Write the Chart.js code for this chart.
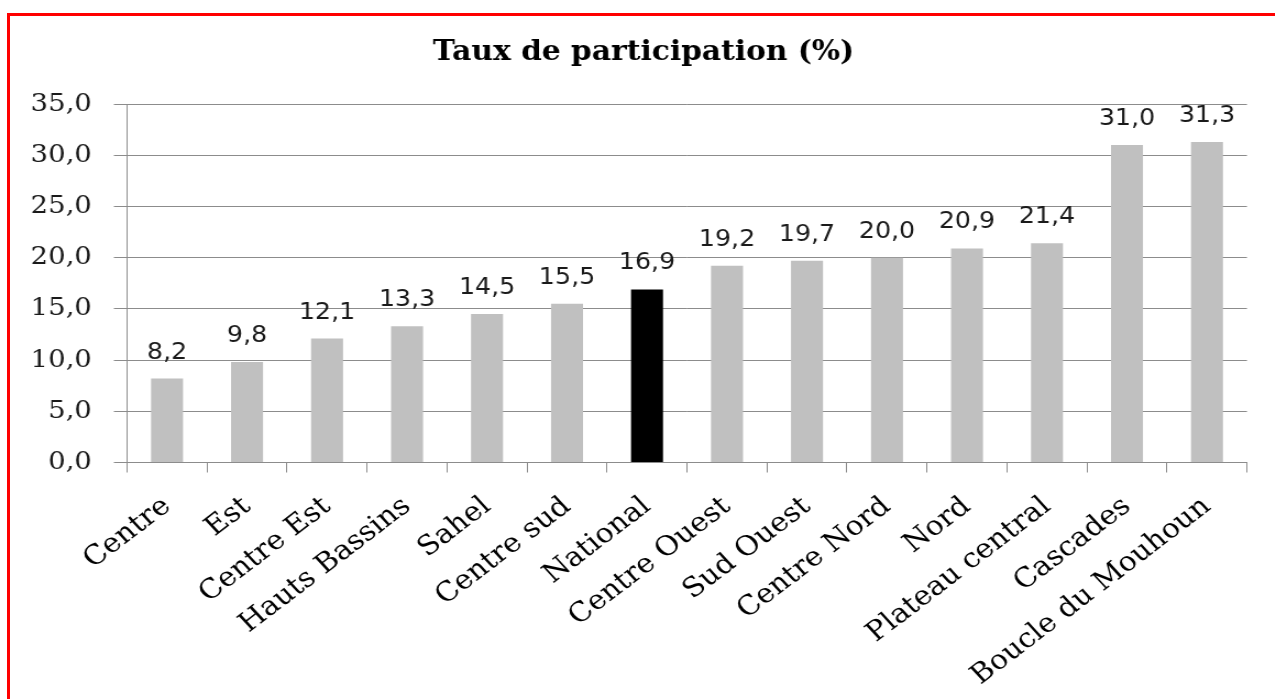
<!DOCTYPE html>
<html lang="fr">
<head>
<meta charset="utf-8">
<title>Taux de participation (%)</title>
<script src="https://cdn.jsdelivr.net/npm/chart.js@4/dist/chart.umd.min.js"></script>
<style>
  html, body { margin: 0; padding: 0; background: #fff; overflow: hidden; }
  body { width: 1275px; height: 699px; position: relative; }
  #cadre {
    position: absolute; left: 7px; top: 13px; width: 1300px; height: 720px;
    border-left: 3px solid #ff0000; border-top: 3px solid #ff0000;
  }
  /* l'image d'origine est un peu étirée en largeur ; le cadre du graphique dépasse à droite */
  #graphique {
    position: absolute; left: 0; top: 0;
    width: 1170px; height: 699px;
    transform: scaleX(1.1); transform-origin: 0 0;
  }
</style>
</head>
<body>
<div id="cadre"></div>
<canvas id="graphique" width="1170" height="699"></canvas>
<script>
// Données du graphique
const titre = 'Taux de participation (%)';
const regions = ['Centre', 'Est', 'Centre Est', 'Hauts Bassins', 'Sahel', 'Centre sud', 'National',
  'Centre Ouest', 'Sud Ouest', 'Centre Nord', 'Nord', 'Plateau central', 'Cascades', 'Boucle du Mouhoun'];
const taux = [8.2, 9.8, 12.1, 13.3, 14.5, 15.5, 16.9, 19.2, 19.7, 20.0, 20.9, 21.4, 31.0, 31.3];
const graduations = [0, 5, 10, 15, 20, 25, 30, 35];

const GRIS_BARRE = '#c0c0c0';
const NOIR = '#000000';
const GRIS_AXE = '#8c8c8c';

function formatVirgule(v) {
  return v.toFixed(1).replace('.', ',');
}

// Étiquettes des valeurs au-dessus des barres
const etiquettesValeurs = {
  id: 'etiquettesValeurs',
  afterDatasetsDraw(chart) {
    const ctx = chart.ctx;
    const meta = chart.getDatasetMeta(0);
    ctx.save();
    ctx.font = '23px "DejaVu Sans"';
    ctx.fillStyle = '#1a1a1a';
    ctx.textAlign = 'center';
    ctx.textBaseline = 'alphabetic';
    meta.data.forEach((barre, i) => {
      ctx.fillText(formatVirgule(taux[i]), barre.x, barre.y - 20);
    });
    ctx.restore();
  }
};

// Titre centré sur tout le cadre (comme dans Excel), pas seulement sur la zone de tracé
const titreCadre = {
  id: 'titreCadre',
  afterDraw(chart) {
    const ctx = chart.ctx;
    ctx.save();
    ctx.font = 'bold 27px "DejaVu Serif"';
    ctx.fillStyle = '#000';
    ctx.textAlign = 'center';
    ctx.textBaseline = 'alphabetic';
    ctx.fillText(titre, chart.width / 2, 60);
    ctx.restore();
  }
};

new Chart(document.getElementById('graphique').getContext('2d'), {
  type: 'bar',
  data: {
    labels: regions,
    datasets: [{
      label: titre,
      data: taux,
      backgroundColor: regions.map(r => r === 'National' ? NOIR : GRIS_BARRE),
      borderWidth: 0,
      categoryPercentage: 1,
      barPercentage: 0.4
    }]
  },
  options: {
    responsive: false,
    animation: false,
    devicePixelRatio: 1,
    layout: { padding: { top: 104, right: 36.4, bottom: 0, left: 0 } },
    plugins: {
      legend: { display: false },
      tooltip: { enabled: false },
      title: { display: false }
    },
    scales: {
      x: {
        offset: true,
        grid: { display: true, drawOnChartArea: false, drawTicks: true, tickLength: 10, color: GRIS_AXE, offset: true },
        border: { display: true, color: GRIS_AXE },
        ticks: {
          color: '#000',
          font: { family: '"DejaVu Serif"', size: 27 },
          minRotation: 40,
          maxRotation: 40,
          padding: 18,
          autoSkip: false
        },
        afterFit: (echelle) => { echelle.height = 236.5; }
      },
      y: {
        min: 0,
        max: 35,
        afterBuildTicks: (echelle) => { echelle.ticks = graduations.map(v => ({ value: v })); },
        grid: { color: GRIS_AXE, tickLength: 12 },
        border: { display: true, color: GRIS_AXE },
        ticks: {
          color: '#1a1a1a',
          font: { family: '"DejaVu Serif"', size: 25 },
          padding: 20,
          callback: (v) => formatVirgule(v)
        },
        afterFit: (echelle) => { echelle.width = 115.5; }
      }
    }
  },
  plugins: [etiquettesValeurs, titreCadre]
});
</script>
</body>
</html>
